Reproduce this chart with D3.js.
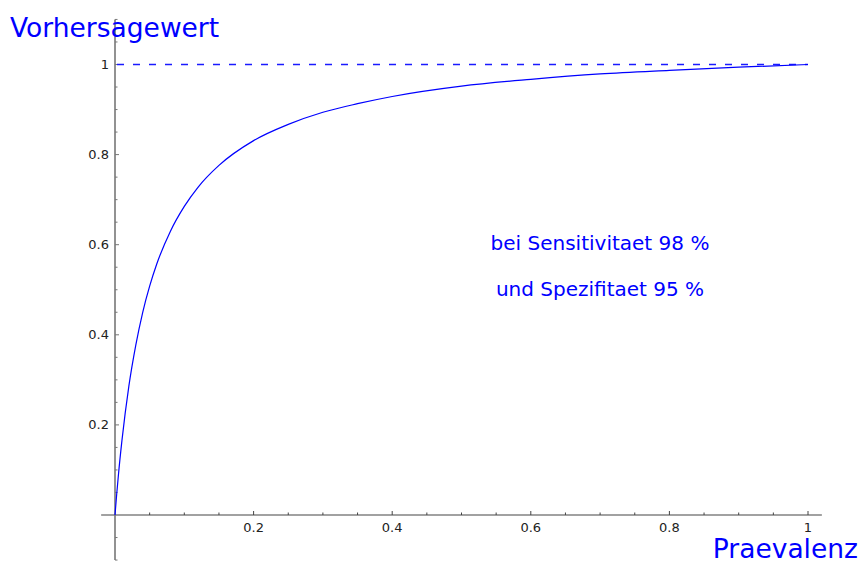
<!DOCTYPE html>
<html>
<head>
<meta charset="utf-8">
<script src="https://cdn.jsdelivr.net/npm/d3@7"></script>
<style>
  body { margin: 0; background: #fff; }
  text { font-family: "DejaVu Sans", sans-serif; }
</style>
</head>
<body>
<div id="plot"></div>
<script>
// Data: prevalence vs. predictive value
var praevalenz = [0, 0.0025, 0.005, 0.01, 0.02, 0.03, 0.04, 0.05, 0.06, 0.08, 0.1, 0.12, 0.15,
  0.2, 0.25, 0.3, 0.35, 0.4, 0.5, 0.6, 0.7, 0.8, 0.9, 1];
var vorhersagewert = [0, 0.047, 0.090, 0.165, 0.286, 0.377, 0.450, 0.508, 0.556, 0.630, 0.685, 0.728, 0.776,
  0.831, 0.867, 0.894, 0.913, 0.929, 0.952, 0.967, 0.979, 0.987, 0.994, 1];
var xTicks = [0.2, 0.4, 0.6, 0.8, 1];
var yTicks = [0.2, 0.4, 0.6, 0.8, 1];
var notes = ["bei Sensitivitaet 98 %", "und Spezifitaet 95 %"];

// SVG area
var svgWidth = 862;
var svgHeight = 563;

var svg = d3.select("#plot")
  .append("svg")
  .attr("width", svgWidth)
  .attr("height", svgHeight);

// Scales (origin sits at 115, 515)
var xScale = d3.scaleLinear()
  .domain([0, 1])
  .range([115, 808]);

var yScale = d3.scaleLinear()
  .domain([0, 1])
  .range([515, 64.5]);

// x axis line
svg.append("line")
  .attr("x1", xScale(-0.02)).attr("x2", xScale(1.02))
  .attr("y1", yScale(0)).attr("y2", yScale(0))
  .attr("stroke", "#444")
  .attr("stroke-width", 1.2);

// y axis line
svg.append("line")
  .attr("x1", xScale(0)).attr("x2", xScale(0))
  .attr("y1", yScale(1.1)).attr("y2", yScale(-0.1))
  .attr("stroke", "#777")
  .attr("stroke-width", 1.6);

// minor ticks every 0.05
var xMinor = d3.range(1, 21).map(d => d * 0.05);
var yMinor = d3.range(-2, 23).map(d => d * 0.05).filter(d => Math.abs(d) > 1e-9);

svg.append("g").selectAll("line")
  .data(xMinor)
  .enter().append("line")
  .attr("x1", d => xScale(d)).attr("x2", d => xScale(d))
  .attr("y1", yScale(0)).attr("y2", d => yScale(0) - (xTicks.some(t => Math.abs(t - d) < 1e-9) ? 4 : 2.5))
  .attr("stroke", "#444");

svg.append("g").selectAll("line")
  .data(yMinor)
  .enter().append("line")
  .attr("y1", d => yScale(d)).attr("y2", d => yScale(d))
  .attr("x1", xScale(0)).attr("x2", d => xScale(0) + (yTicks.some(t => Math.abs(t - d) < 1e-9) ? 4 : 2.5))
  .attr("stroke", "#777");

// tick labels
svg.append("g").selectAll("text")
  .data(xTicks)
  .enter().append("text")
  .attr("x", d => xScale(d))
  .attr("y", yScale(0) + 17)
  .attr("text-anchor", "middle")
  .attr("font-size", 13)
  .attr("fill", "#222")
  .text(d => d3.format("~g")(d));

svg.append("g").selectAll("text")
  .data(yTicks)
  .enter().append("text")
  .attr("x", xScale(0) - 6)
  .attr("y", d => yScale(d) + 4.5)
  .attr("text-anchor", "end")
  .attr("font-size", 13)
  .attr("fill", "#222")
  .text(d => d3.format("~g")(d));

// dashed line at 1
svg.append("line")
  .attr("x1", xScale(0)).attr("x2", xScale(1))
  .attr("y1", yScale(1)).attr("y2", yScale(1))
  .attr("stroke", "#1a1aff")
  .attr("stroke-width", 1.3)
  .attr("stroke-dasharray", "7,9")
  .attr("stroke-dashoffset", -2);

// curve
var drawLine = d3.line()
  .x((d, i) => xScale(praevalenz[i]))
  .y(d => yScale(d))
  .curve(d3.curveMonotoneX);

svg.append("path")
  .attr("d", drawLine(vorhersagewert))
  .attr("fill", "none")
  .attr("stroke", "#0000ff")
  .attr("stroke-width", 1.2);

// axis titles
svg.append("text")
  .attr("x", 10)
  .attr("y", 37)
  .attr("font-size", 26.5)
  .attr("fill", "#0000ff")
  .text("Vorhersagewert");

svg.append("text")
  .attr("x", 858)
  .attr("y", 558)
  .attr("text-anchor", "end")
  .attr("font-size", 26.5)
  .attr("fill", "#0000ff")
  .text("Praevalenz");

// annotation
svg.append("g").selectAll("text")
  .data(notes)
  .enter().append("text")
  .attr("x", 600)
  .attr("y", (d, i) => 250 + i * 46)
  .attr("text-anchor", "middle")
  .attr("font-size", 20)
  .attr("fill", "#0000ff")
  .text(d => d);
</script>
</body>
</html>
